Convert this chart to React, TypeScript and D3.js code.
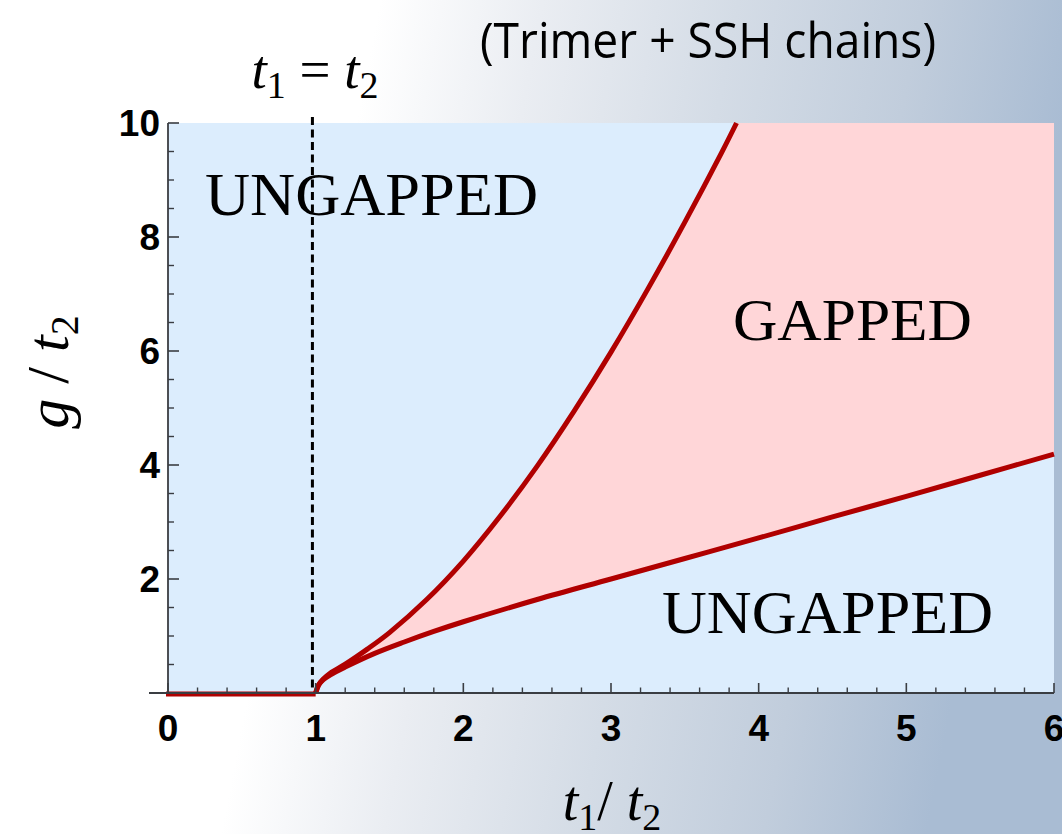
import React from "react";
import * as d3 from "d3";

// Phase boundary g/t2 as a function of t1/t2 (upper branch of the gapped region)
const upperT = [1.0, 1.02, 1.05, 1.1, 1.2, 1.35, 1.5, 1.75, 2.0, 2.25, 2.5, 2.75, 3.0, 3.25, 3.5, 3.75, 3.85];
const upperG = [0, 0.14, 0.24, 0.35, 0.505, 0.77, 1.06, 1.635, 2.315, 3.105, 3.98, 4.945, 5.98, 7.09, 8.26, 9.485, 10];

// Lower branch of the gapped region
const lowerT = [1.0, 1.02, 1.05, 1.1, 1.2, 1.4, 1.6, 1.8, 2.0, 2.5, 3.0, 3.5, 4.0, 4.5, 5.0, 5.5, 6.0];
const lowerG = [0, 0.14, 0.23, 0.32, 0.455, 0.695, 0.895, 1.08, 1.25, 1.64, 2.0, 2.36, 2.72, 3.09, 3.45, 3.82, 4.19];

// Trivial segment on the g = 0 axis
const baseT = [0, 1];
const baseG = [0, 0];

const xMajorTicks = [0, 1, 2, 3, 4, 5, 6];
const yMajorTicks = [2, 4, 6, 8, 10];
const xMinorStep = 0.2;
const yMinorStep = 0.5;
const dashedT = 0.978;

const W = 1062;
const H = 834;

export default function App() {
  const x = d3.scaleLinear().domain([0, 6]).range([168, 1054]);
  const y = d3.scaleLinear().domain([0, 10]).range([693, 123]);

  const upper: [number, number][] = upperT.map((t, i) => [t, upperG[i]]);
  const lower: [number, number][] = lowerT.map((t, i) => [t, lowerG[i]]);
  const base: [number, number][] = baseT.map((t, i) => [t, baseG[i]]);

  const line = d3
    .line<[number, number]>()
    .x((d) => x(d[0]))
    .y((d) => y(d[1]))
    .curve(d3.curveCatmullRom.alpha(0.5));

  const upperPath = line(upper) || "";
  const lowerPath = line(lower) || "";
  const lowerRev = (line([...lower].reverse()) || "").replace(/^M/, "L");
  const fillPath =
    upperPath +
    `L${x(6)},${y(10)}` +
    `L${x(6)},${y(lowerG[lowerG.length - 1])}` +
    lowerRev +
    "Z";

  const xMinor = d3.range(0, 6 + 1e-9, xMinorStep).filter((v) => Math.abs(v - Math.round(v)) > 1e-6);
  const yMinor = d3.range(0, 10 + 1e-9, yMinorStep).filter((v) => Math.abs(v / 2 - Math.round(v / 2)) > 1e-6);

  const axisColor = "#3a3d42";
  const red = "#b00000";
  const tickFont = "'Liberation Sans', Arial, sans-serif";
  const serif = "'Liberation Serif', 'Times New Roman', serif";

  return (
    <svg
      width={W}
      height={H}
      style={{ position: "absolute", left: 0, top: 0 }}
      xmlns="http://www.w3.org/2000/svg"
    >
      <defs>
        <linearGradient id="bg" x1="0" y1="0" x2="1" y2="0.15">
          <stop offset="0" stopColor="#ffffff" />
          <stop offset="0.35" stopColor="#ffffff" />
          <stop offset="0.5" stopColor="#eaedf2" />
          <stop offset="0.68" stopColor="#d4dce6" />
          <stop offset="0.85" stopColor="#c1cddc" />
          <stop offset="1" stopColor="#a9bcd3" />
        </linearGradient>
      </defs>
      <rect x={0} y={0} width={W} height={H} fill="url(#bg)" />

      {/* plot background and gapped region */}
      <rect x={x(0)} y={y(10)} width={x(6) - x(0)} height={y(0) - y(10)} fill="#dcedfd" />
      <path d={fillPath} fill="#ffd6d8" stroke="none" />

      {/* region labels */}
      <text x={205} y={215} fontFamily={serif} fontSize={61} textLength={333} lengthAdjust="spacingAndGlyphs" fill="#000">
        UNGAPPED
      </text>
      <text x={733} y={340} fontFamily={serif} fontSize={60} textLength={239} lengthAdjust="spacingAndGlyphs" fill="#000">
        GAPPED
      </text>
      <text x={662} y={633} fontFamily={serif} fontSize={61} textLength={331} lengthAdjust="spacingAndGlyphs" fill="#000">
        UNGAPPED
      </text>

      {/* t1 = t2 marker */}
      <line
        x1={x(dashedT)}
        x2={x(dashedT)}
        y1={117}
        y2={y(0)}
        stroke="#000"
        strokeWidth={3}
        strokeDasharray="8,4.5"
      />

      {/* boundary curves */}
      <path d={upperPath} fill="none" stroke={red} strokeWidth={5} strokeLinejoin="round" />
      <path d={lowerPath} fill="none" stroke={red} strokeWidth={5} strokeLinejoin="round" />
      <path
        d={`M${x(base[0][0]) - 2},${y(base[0][1]) + 1}L${x(base[1][0])},${y(base[1][1]) + 1}`}
        fill="none"
        stroke={red}
        strokeWidth={5}
      />

      {/* axes */}
      <line x1={149} x2={x(6)} y1={y(0)} y2={y(0)} stroke={axisColor} strokeWidth={1.8} />
      <line x1={x(0)} x2={x(0)} y1={y(10)} y2={y(0)} stroke={axisColor} strokeWidth={1.8} />

      {xMajorTicks.map((t) => (
        <line key={"xM" + t} x1={x(t)} x2={x(t)} y1={y(0)} y2={y(0) - 10} stroke={axisColor} strokeWidth={1.6} />
      ))}
      {xMinor.map((t) => (
        <line key={"xm" + t} x1={x(t)} x2={x(t)} y1={y(0)} y2={y(0) - 5.5} stroke={axisColor} strokeWidth={1.4} />
      ))}
      {yMajorTicks.map((g) => (
        <line key={"yM" + g} x1={x(0)} x2={x(0) + 11} y1={y(g)} y2={y(g)} stroke={axisColor} strokeWidth={1.6} />
      ))}
      {yMinor.map((g) => (
        <line key={"ym" + g} x1={x(0)} x2={x(0) + 6} y1={y(g)} y2={y(g)} stroke={axisColor} strokeWidth={1.4} />
      ))}

      {xMajorTicks.map((t) => (
        <text
          key={"xl" + t}
          x={x(t)}
          y={741}
          textAnchor="middle"
          fontFamily={tickFont}
          fontWeight="bold"
          fontSize={37}
          fill="#000"
        >
          {t}
        </text>
      ))}
      {yMajorTicks.map((g) => (
        <text
          key={"yl" + g}
          x={160}
          y={y(g) + 13}
          textAnchor="end"
          fontFamily={tickFont}
          fontWeight="bold"
          fontSize={37}
          fill="#000"
        >
          {g}
        </text>
      ))}

      {/* title */}
      <text
        x={480}
        y={58}
        fontFamily="'Open Sans', 'DejaVu Sans', sans-serif"
        fontSize={50}
        textLength={456}
        lengthAdjust="spacingAndGlyphs"
        fill="#000"
      >
        (Trimer + SSH chains)
      </text>

      {/* t1 = t2 label */}
      <text x={315} y={88} textAnchor="middle" fontFamily={serif} fontSize={55} fill="#000">
        <tspan fontStyle="italic">t</tspan>
        <tspan fontSize={38} dy={10}>1</tspan>
        <tspan dy={-10}> = </tspan>
        <tspan fontStyle="italic">t</tspan>
        <tspan fontSize={38} dy={10}>2</tspan>
      </text>

      {/* x-axis title */}
      <text x={612} y={820} textAnchor="middle" fontFamily={serif} fontSize={56} fill="#000">
        <tspan fontStyle="italic">t</tspan>
        <tspan fontSize={38} dy={10}>1</tspan>
        <tspan dy={-10}>/ </tspan>
        <tspan fontStyle="italic">t</tspan>
        <tspan fontSize={38} dy={10}>2</tspan>
      </text>

      {/* y-axis title */}
      <text
        transform="translate(68,372) rotate(-90)"
        textAnchor="middle"
        fontFamily={serif}
        fontSize={60}
        fill="#000"
      >
        <tspan fontStyle="italic">g</tspan>
        <tspan> / </tspan>
        <tspan fontStyle="italic">t</tspan>
        <tspan fontSize={40} dy={10}>2</tspan>
      </text>
    </svg>
  );
}
